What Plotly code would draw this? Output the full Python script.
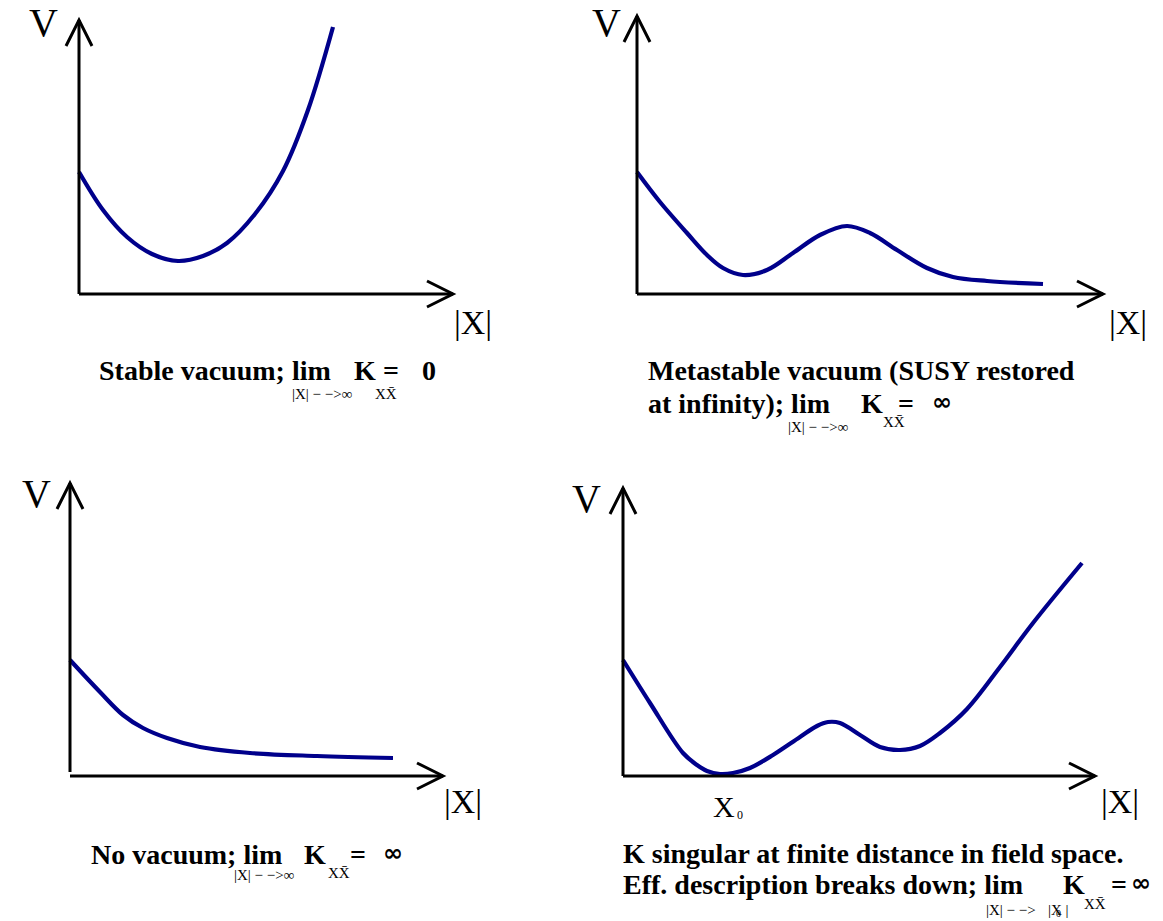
import plotly.graph_objects as go

W, H = 1163, 921

# ---------------- data (units = px from each panel's origin) -------------
stable_x = [0, 24, 48, 73, 99, 124, 148, 176, 204, 229, 254]
stable_v = [122, 84, 57, 40, 33, 38, 51, 80, 123, 184, 267]

meta_x = [0, 23, 50, 70, 86, 106, 130, 156, 183, 210, 233, 260, 290, 316, 350, 406]
meta_v = [122, 92, 61, 39, 26, 19, 24, 41, 59, 68, 61, 44, 26, 17, 13, 10]

novac_x = [0, 30, 53, 73, 97, 130, 180, 247, 323]
novac_v = [116, 84, 61, 48, 38, 29, 23, 20, 18]

sing_x = [0, 27, 60, 74, 84, 97, 110, 127, 150, 177, 194, 205, 217, 237, 257, 277, 297, 317, 344, 377, 410, 459]
sing_v = [116, 73, 23, 11, 5, 2, 3, 8, 21, 39, 50, 54, 53, 41, 29, 26, 30, 43, 67, 109, 153, 213]

# panel geometry: origin (px), x-axis length, y-axis length
panels = [
    dict(ox=79, oy=294, L=374, Hh=274, x=stable_x, v=stable_v, ystart=0),
    dict(ox=637, oy=294, L=466, Hh=278, x=meta_x, v=meta_v, ystart=0),
    dict(ox=70, oy=776, L=373, Hh=293, x=novac_x, v=novac_v, ystart=4),
    dict(ox=623, oy=776, L=472, Hh=288, x=sing_x, v=sing_v, ystart=0),
]

CURVE = "#00008b"
FONT = "Liberation Serif"

fig = go.Figure()
layout = dict(width=W, height=H, margin=dict(l=0, r=0, t=0, b=0),
              paper_bgcolor="white", plot_bgcolor="white", showlegend=False)
shapes = []
PADL, PADR, PADB, PADT = 30, 12, 22, 12

for i, p in enumerate(panels):
    k = "" if i == 0 else str(i + 1)
    xa, ya = "x" + k, "y" + k
    x0px, x1px = p["ox"] - PADL, p["ox"] + p["L"] + PADR
    ytop, ybot = p["oy"] - p["Hh"] - PADT, p["oy"] + PADB
    layout["xaxis" + k] = dict(domain=[x0px / W, x1px / W], range=[-PADL, p["L"] + PADR],
                               visible=False, fixedrange=True, anchor=ya)
    layout["yaxis" + k] = dict(domain=[1 - ybot / H, 1 - ytop / H], range=[-PADB, p["Hh"] + PADT],
                               visible=False, fixedrange=True, anchor=xa)
    fig.add_trace(go.Scatter(x=p["x"], y=p["v"], mode="lines", xaxis=xa, yaxis=ya,
                             line=dict(color=CURVE, width=4.2, shape="spline", smoothing=1.0),
                             hoverinfo="skip"))
    L, Hh = p["L"], p["Hh"]
    st = dict(xref=xa, yref=ya, line=dict(color="black", width=3), layer="above")
    shapes.append(dict(type="line", x0=0, y0=0, x1=L, y1=0, **st))
    shapes.append(dict(type="line", x0=0, y0=p["ystart"], x1=0, y1=Hh, **st))
    shapes.append(dict(type="path", path=f"M {L-26},13 L {L},0 L {L-26},-13", **st))
    shapes.append(dict(type="path", path=f"M -13,{Hh-26} L 0,{Hh} L 13,{Hh-26}", **st))

ann = []


def txt(s, x, y, size, bold=False, family=FONT):
    if bold:
        s = "<b>" + s + "</b>"
    ann.append(dict(text=s, x=x / W, y=1 - y / H, xref="paper", yref="paper",
                    xanchor="left", yanchor="middle", showarrow=False, borderpad=0,
                    font=dict(family=family, size=size, color="black")))


def inf(x, y):
    txt("\u221e", x, y, 24, True, "DejaVu Sans")


# axis labels
for (vx, vy) in [(28, 22), (591, 22), (21, 493), (571, 498)]:
    txt("V", vx, vy, 40)
for (lx, ly) in [(453, 323), (1108, 323), (443, 801), (1100, 801)]:
    txt("|X|", lx, ly, 34)
txt("X", 712, 806, 30)
txt("0", 736, 815, 12)

MAIN, SUB, SUBX = 28, 15, 15
LIMSUB = "|X| \u2212 \u2212>\u221e"
XXB = "XX\u0304"
# caption A
txt("Stable vacuum; lim", 98, 371, MAIN, True)
txt("K", 353, 371, MAIN, True)
txt("=", 382, 371, MAIN, True)
txt("0", 421, 371, MAIN, True)
txt(LIMSUB, 291, 394, SUB)
txt(XXB, 374, 394, SUBX)
# caption B
txt("Metastable vacuum (SUSY restored", 647, 371, MAIN, True)
txt("at infinity); lim", 647, 403, MAIN, True)
txt("K", 860, 403, MAIN, True)
txt("=", 897, 403, MAIN, True)
inf(931, 402)
txt(LIMSUB, 787, 427, SUB)
txt(XXB, 882, 422, SUBX)
# caption C
txt("No vacuum; lim", 90, 854, MAIN, True)
txt("K", 303, 854, MAIN, True)
txt("=", 349, 854, MAIN, True)
inf(382, 853)
txt(LIMSUB, 233, 875, SUB)
txt(XXB, 327, 873, SUBX)
# caption D
txt("K singular at finite distance in field space.", 622, 853, MAIN, True)
txt("Eff. description breaks down; lim", 622, 884, MAIN, True)
txt("K", 1062, 884, MAIN, True)
txt("=", 1110, 884, MAIN, True)
inf(1130, 883)
txt("|X| \u2212 \u2212>", 985, 910, SUB)
txt("|X |", 1047, 910, SUB)
txt("0", 1055, 913, 10)
txt(XXB, 1083, 904, SUBX)

layout["shapes"] = shapes
layout["annotations"] = ann
fig.update_layout(**layout)
fig.write_html("out.html")
